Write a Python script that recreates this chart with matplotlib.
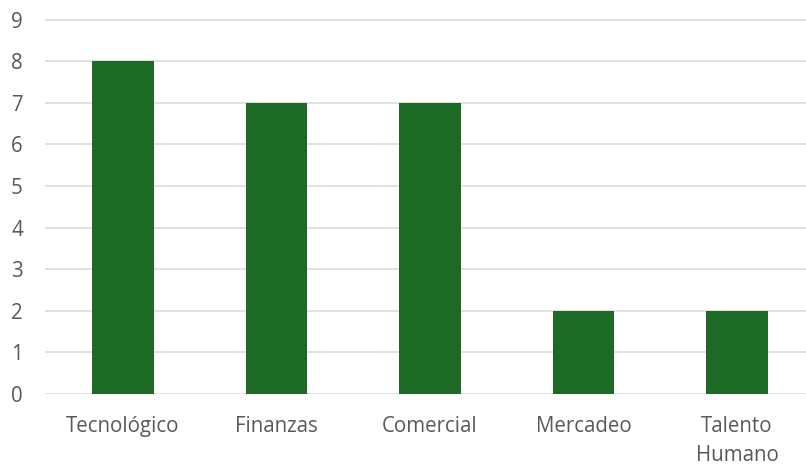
import matplotlib.pyplot as plt

# data
categorias = ['Tecnológico', 'Finanzas', 'Comercial', 'Mercadeo', 'Talento\nHumano']
valores = [8, 7, 7, 2, 2]

plt.rcParams['font.family'] = ['Open Sans', 'DejaVu Sans']

fig = plt.figure(figsize=(8.06, 4.65), dpi=100)
ax = fig.add_axes([45 / 806, 1 - 394 / 465, 761 / 806, (394 - 19.5) / 465])

x = range(len(categorias))
ax.bar(x, valores, width=0.4, color='#1C6A25', zorder=3)

ax.set_ylim(0, 9)
ax.set_xlim(-0.508, 4.449)
ax.set_yticks(range(0, 10))
ax.set_xticks(list(x))
ax.set_xticklabels(categorias, linespacing=1.5)

ax.grid(axis='y', color='#D9D9D9', linewidth=1.1, zorder=0)
for s in ax.spines.values():
    s.set_visible(False)
ax.tick_params(axis='both', length=0, labelsize=14.8, labelcolor='#595959')
ax.tick_params(axis='x', pad=16)
ax.tick_params(axis='y', pad=16)

fig.savefig('out.png', dpi=100)
